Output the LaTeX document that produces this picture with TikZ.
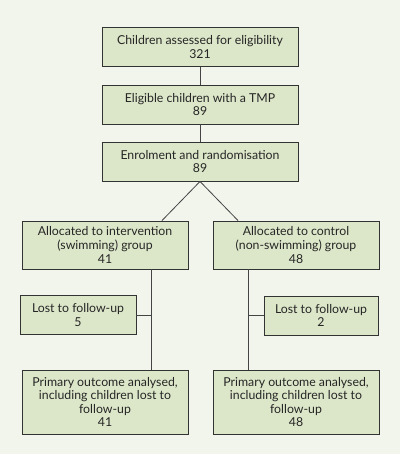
\documentclass[tikz,border=0pt]{standalone}
\usepackage{fontspec}
\setmainfont{Lato}
\definecolor{bgc}{HTML}{F2F5EC}
\definecolor{boxfill}{HTML}{DCE6C8}
\definecolor{boxline}{HTML}{333333}
\definecolor{conn}{HTML}{444444}
\begin{document}
\begin{tikzpicture}[x=1pt,y=-1pt,
  box/.style={draw=boxline, fill=boxfill, line width=0.9pt, align=center, inner sep=0pt,
    font=\fontsize{12.3}{13.6}\selectfont, text=black!85},
  link/.style={draw=conn, line width=0.8pt}]
\fill[bgc] (0,0) rectangle (400,454);
\useasboundingbox (0,0) rectangle (400,454);
\node[box, minimum width=196pt, minimum height=39pt] (assess) at (200,47) {Children assessed for eligibility\\321};
\node[box, minimum width=196pt, minimum height=39pt] (elig) at (200,104.5) {Eligible children with a TMP\\89};
\node[box, minimum width=196pt, minimum height=39pt] (enrol) at (200,161.5) {Enrolment and randomisation\\89};
\node[box, minimum width=166pt, minimum height=48pt] (allocL) at (105,245) {Allocated to intervention\\(swimming) group\\41};
\node[box, minimum width=166pt, minimum height=48pt] (allocR) at (296,245) {Allocated to control\\(non-swimming) group\\48};
\node[box, minimum width=116pt, minimum height=39pt] (lostL) at (78,315) {Lost to follow-up\\5};
\node[box, minimum width=114pt, minimum height=39pt] (lostR) at (321,315.5) {Lost to follow-up\\2};
\node[box, minimum width=166pt, minimum height=64pt] (outL) at (105,402) {Primary outcome analysed,\\including children lost to\\follow-up\\41};
\node[box, minimum width=166pt, minimum height=64pt] (outR) at (296,402) {Primary outcome analysed,\\including children lost to\\follow-up\\48};
\coordinate (vLtop) at ([xshift=46pt]allocL.south);
\coordinate (vLbot) at ([xshift=46pt]outL.north);
\coordinate (vRtop) at ([xshift=-48pt]allocR.south);
\coordinate (vRbot) at ([xshift=-48pt]outR.north);
\draw[link] (assess.south) -- (elig.north);
\draw[link] (elig.south) -- (enrol.north);
\draw[link] (enrol.south) -- ([xshift=57pt]allocL.north);
\draw[link] (enrol.south) -- ([xshift=-58pt]allocR.north);
\draw[link] (vLtop) -- (vLbot);
\draw[link] (vRtop) -- (vRbot);
\draw[link] (lostL.east) -- (lostL.east -| vLtop);
\draw[link] (lostR.west) -- (lostR.west -| vRtop);
\end{tikzpicture}
\end{document}
